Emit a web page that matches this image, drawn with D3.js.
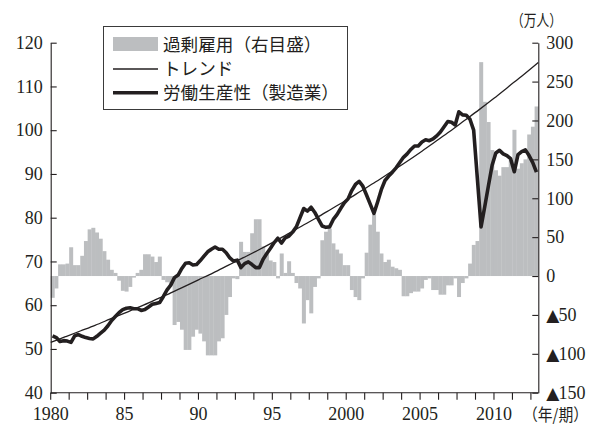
<!DOCTYPE html>
<html><head><meta charset="utf-8">
<script src="https://cdn.jsdelivr.net/npm/d3@7"></script>
<style>body{margin:0;background:#fff} svg{display:block}</style>
</head><body>
<svg id="c" width="601" height="425"></svg>
<script>
// ---- data ----
const startYear = 1980;
const quarters = d3.range(132).map(i => `${startYear + Math.floor(i / 4)}Q${i % 4 + 1}`);
// 過剰雇用（万人, 右目盛）
const excessEmployment = [
  -28,-16,15,15,16,37,14,14,26,45,
  60,62,56,48,32,21,8,4,-6,-19,
  -20,-14,-2,4,8,28,28,25,18,25,
  -5,-8,-12,-63,-59,-69,-95,-95,-78,-69,
  -74,-84,-102,-102,-102,-84,-80,-50,-27,-3,
  -4,44,31,31,55,73,73,38,29,20,
  18,-3,29,4,19,4,-9,-16,-61,-31,
  -48,-14,-3,46,57,61,42,34,29,14,
  14,-18,-27,-31,-3,30,66,79,57,29,
  18,21,12,10,8,-26,-26,-22,-20,-20,
  -16,-5,-3,-18,-18,-24,-24,-12,-12,-3,
  -27,-9,-3,16,40,45,275,224,198,162,
  136,129,140,140,149,188,138,145,150,182,
  192,218
];
// 労働生産性（製造業, 左目盛）
const productivity = [
  53.0,52.6,51.7,51.9,51.8,51.5,53.0,53.3,52.9,52.6,
  52.4,52.3,52.9,53.6,54.3,55.3,56.5,57.4,58.3,59.0,
  59.3,59.4,59.2,59.2,58.8,59.0,59.6,60.2,60.4,60.6,
  62.0,63.5,64.6,66.3,66.9,68.4,69.6,69.7,69.2,69.3,
  70.2,71.2,72.2,72.8,73.3,72.8,72.8,72.0,70.8,70.1,
  70.3,68.6,69.5,69.9,69.3,68.6,68.6,70.5,71.8,73.0,
  74.3,75.3,74.2,75.4,75.8,76.7,77.9,80.0,82.1,81.5,
  82.4,81.2,79.6,78.1,77.8,77.9,79.6,80.7,82.1,83.4,
  84.3,86.2,87.6,88.3,87.2,85.2,83.1,81.0,83.6,86.4,
  88.5,89.5,90.4,91.4,92.6,93.8,94.6,95.6,96.4,96.4,
  97.3,97.8,97.6,98.0,98.7,99.6,100.8,102.0,101.8,101.2,
  104.2,103.5,103.4,102.5,100.0,89.0,77.9,82.5,87.3,92.0,
  94.8,95.4,94.6,94.2,93.5,90.5,94.4,95.1,95.5,94.2,
  92.6,90.4
];
// トレンド (read at start of each year)
const trendYears = [1980,1981,1982,1983,1984,1985,1986,1987,1988,1989,1990,1991,1992,1993,1994,1995,1996,1997,1998,1999,2000,2001,2002,2003,2004,2005,2006,2007,2008,2009,2010,2011,2012,2013];
const trendValues = [51.5,52.8,54.1,55.4,56.8,58.2,59.6,61.1,62.6,64.2,65.8,67.4,69.1,70.8,72.5,74.3,76.2,78.1,80.0,82.0,84.0,86.1,88.2,90.4,92.6,94.9,97.3,99.7,102.2,104.7,107.3,110.0,112.7,115.5];
const leftTicks = [40,50,60,70,80,90,100,110,120];
const rightTicks = [-150,-100,-50,0,50,100,150,200,250,300];
const rightTickLabels = ["▲150","▲100","▲50","0","50","100","150","200","250","300"];
const xTickQuarters = ["1980Q1","1981Q2","1982Q3","1983Q4","1985Q1","1986Q2","1987Q3","1988Q4","1990Q1","1991Q2","1992Q3","1993Q4","1995Q1","1996Q2","1997Q3","1998Q4","2000Q1","2001Q2","2002Q3","2003Q4","2005Q1","2006Q2","2007Q3","2008Q4","2010Q1","2011Q2","2012Q3"];
const xTickLabels = {"1980Q1":"1980","1985Q1":"85","1990Q1":"90","1995Q1":"95","2000Q1":"2000","2005Q1":"2005","2010Q1":"2010"};
const legendLabels = ["過剰雇用（右目盛）","トレンド","労働生産性（製造業）"];

// ---- layout ----
const L = 50.7, R = 538.3, T = 42.7, B = 392.7;
const svg = d3.select("#c");
const numFont = "'Liberation Serif','Times New Roman',serif";
const jpFont = "'Noto Sans CJK JP','Noto Sans',sans-serif";
const ink = "#231f20";

const x = d3.scaleBand().domain(quarters).range([L, R]).padding(0);
const yL = d3.scaleLinear().domain([40, 120]).range([B, T]);
const yR = d3.scaleLinear().domain([-150, 300]).range([B, T]);
const xYear = d3.scaleLinear().domain([1980, 2013]).range([L, R]);

// bars
svg.append("g").selectAll("rect").data(quarters).join("rect")
  .attr("x", d => x(d))
  .attr("width", x.bandwidth() + 0.3)
  .attr("y", (d, i) => yR(Math.max(0, excessEmployment[i])))
  .attr("height", (d, i) => Math.abs(yR(excessEmployment[i]) - yR(0)))
  .attr("fill", "#bcbec0");

// trend line
svg.append("path")
  .datum(trendYears.map((yr, i) => [yr, trendValues[i]]))
  .attr("fill", "none").attr("stroke", ink).attr("stroke-width", 1.3)
  .attr("d", d3.line().x(d => xYear(d[0])).y(d => yL(d[1])).curve(d3.curveMonotoneX));

// productivity line
svg.append("path")
  .datum(quarters.map((q, i) => [q, productivity[i]]))
  .attr("fill", "none").attr("stroke", ink).attr("stroke-width", 3.6)
  .attr("stroke-linejoin", "round")
  .attr("d", d3.line().x(d => x(d[0]) + x.bandwidth() / 2).y(d => yL(d[1])));

// axes
const axL = d3.axisLeft(yL).tickValues(leftTicks).tickSizeInner(-6).tickSizeOuter(0).tickPadding(8);
const gL = svg.append("g").attr("transform", `translate(${L},0)`).call(axL);
const axR = d3.axisRight(yR).tickValues(rightTicks).tickFormat((d, i) => rightTickLabels[i]).tickSizeInner(-6).tickSizeOuter(0).tickPadding(8);
const gR = svg.append("g").attr("transform", `translate(${R},0)`).call(axR);
const axB = d3.axisBottom(x).tickValues(xTickQuarters).tickFormat(d => xTickLabels[d] || "").tickSizeInner(7).tickSizeOuter(0).tickPadding(8);
const gB = svg.append("g").attr("transform", `translate(0,${B})`).call(axB);
gB.selectAll(".tick").attr("transform", d => `translate(${x(d)},0)`);
gB.select(".domain").attr("d", `M${L},0H${R}`);

[gL, gR, gB].forEach(g => {
  g.select(".domain").attr("stroke", ink).attr("stroke-width", 1.1);
  g.selectAll(".tick line").attr("stroke", ink).attr("stroke-width", 1.1);
  g.selectAll("text").attr("font-family", numFont).attr("font-size", 18).attr("fill", ink);
});

// tighten the ▲ marks on negative right-axis labels
gR.selectAll(".tick text").each(function () {
  const t = d3.select(this);
  const s = t.text();
  if (s.startsWith("▲")) {
    t.text(null);
    t.append("tspan").attr("font-family", "'DejaVu Sans',sans-serif").attr("font-size", 17).text("▲");
    t.append("tspan").attr("dx", -1).text(s.slice(1));
  }
});

// unit labels
svg.append("text").attr("x", 511).attr("y", 26).attr("font-family", jpFont).attr("font-size", 16)
  .attr("fill", ink).attr("textLength", 51).attr("lengthAdjust", "spacingAndGlyphs").text("（万人）");
svg.append("text").attr("x", 523).attr("y", 421).attr("font-family", jpFont).attr("font-size", 16.5)
  .attr("fill", ink).attr("textLength", 65).attr("lengthAdjust", "spacingAndGlyphs").text("（年/期）");

// legend
const lg = svg.append("g");
lg.append("rect").attr("x", 103.5).attr("y", 26.5).attr("width", 244).attr("height", 83)
  .attr("fill", "#fff").attr("stroke", "#3a3a3a").attr("stroke-width", 1);
lg.append("rect").attr("x", 113).attr("y", 37).attr("width", 45).attr("height", 14).attr("fill", "#bcbec0");
lg.append("line").attr("x1", 113).attr("x2", 158).attr("y1", 69).attr("y2", 69).attr("stroke", ink).attr("stroke-width", 1.3);
lg.append("line").attr("x1", 113).attr("x2", 158).attr("y1", 92.7).attr("y2", 92.7).attr("stroke", ink).attr("stroke-width", 3.6);
const legY = [44.5, 69, 92.5];
legendLabels.forEach((t, i) => {
  lg.append("text").attr("x", 163).attr("y", legY[i]).attr("dy", "0.36em")
    .attr("font-family", jpFont).attr("font-size", 17.6).attr("fill", ink).text(t);
});
</script>
</body></html>
